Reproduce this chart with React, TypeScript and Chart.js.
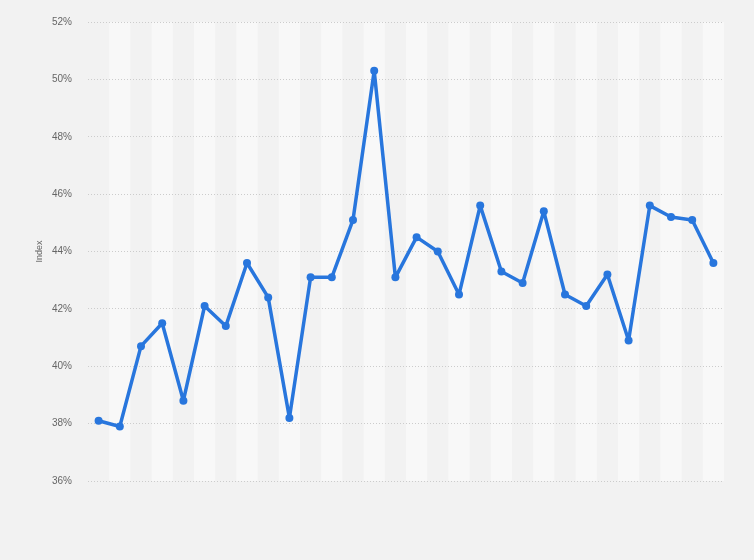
import React, { useEffect, useRef } from 'react';
import { Chart, registerables, Plugin } from 'chart.js';

Chart.register(...registerables);

// 30 periods, no category names shown on the original chart
const categories: string[] = Array.from({ length: 30 }, (_, i) => `P${i + 1}`);

const indexValues: number[] = [
  38.1, 37.9, 40.7, 41.5, 38.8, 42.1, 41.4, 43.6, 42.4, 38.2,
  43.1, 43.1, 45.1, 50.3, 43.1, 44.5, 44.0, 42.5, 45.6, 43.3,
  42.9, 45.4, 42.5, 42.1, 43.2, 40.9, 45.6, 45.2, 45.1, 43.6,
];

const yMin = 36;
const yMax = 52;
const yStep = 2;

const BG = '#f2f2f2';
const STRIPE = '#f8f8f8';
const LINE = '#2876dd';

// alternating column stripes behind the plot
const stripes: Plugin<'line'> = {
  id: 'stripes',
  beforeDraw(chart) {
    const { ctx, chartArea, scales } = chart;
    const x = scales.x;
    const n = chart.data.labels ? chart.data.labels.length : 0;
    if (!n) return;
    const w = (chartArea.right - chartArea.left) / n;
    ctx.save();
    ctx.fillStyle = STRIPE;
    for (let i = 1; i < n; i += 2) {
      const cx = x.getPixelForValue(i);
      ctx.fillRect(cx - w / 2, chartArea.top, w, chartArea.bottom - chartArea.top);
    }
    ctx.restore();
  },
};

const App: React.FC = () => {
  const chartRef = useRef<HTMLCanvasElement>(null);
  const chartInstance = useRef<Chart | null>(null);

  useEffect(() => {
    document.body.style.margin = '0';
    document.body.style.background = BG;
    if (!chartRef.current) return;
    const ctx = chartRef.current.getContext('2d');
    if (!ctx) return;

    chartInstance.current = new Chart(ctx, {
      type: 'line',
      data: {
        labels: categories,
        datasets: [
          {
            label: 'Index',
            data: indexValues,
            borderColor: LINE,
            backgroundColor: LINE,
            borderWidth: 3.5,
            borderJoinStyle: 'round',
            borderCapStyle: 'round',
            pointRadius: 4,
            pointHoverRadius: 4,
            pointBorderWidth: 0,
            tension: 0,
          },
        ],
      },
      options: {
        responsive: false,
        animation: false,
        layout: {
          padding: { top: 20, right: 30, bottom: 79, left: 0 },
        },
        plugins: {
          legend: { display: false },
          tooltip: { enabled: false },
        },
        scales: {
          x: {
            type: 'category',
            offset: true,
            display: false,
            grid: { display: false },
          },
          y: {
            min: yMin,
            max: yMax,
            afterFit: (scale) => {
              scale.width = 88;
            },
            ticks: {
              stepSize: yStep,
              padding: 16,
              color: '#666',
              font: { family: '"Liberation Sans", Arial, sans-serif', size: 10 },
              callback: (v) => `${v}%`,
            },
            title: {
              display: true,
              text: 'Index',
              color: '#666',
              font: { family: '"Liberation Sans", Arial, sans-serif', size: 9 },
              padding: { top: 34, bottom: 0 },
            },
            grid: {
              color: '#cccccc',
              lineWidth: 1,
              drawTicks: false,
            },
            border: { display: false, dash: [1, 2] },
          },
        },
      },
      plugins: [stripes],
    });

    return () => {
      if (chartInstance.current) {
        chartInstance.current.destroy();
        chartInstance.current = null;
      }
    };
  }, []);

  return (
    <div style={{ width: 754, height: 560, background: BG }}>
      <canvas ref={chartRef} width={754} height={560} />
    </div>
  );
};

export default App;
